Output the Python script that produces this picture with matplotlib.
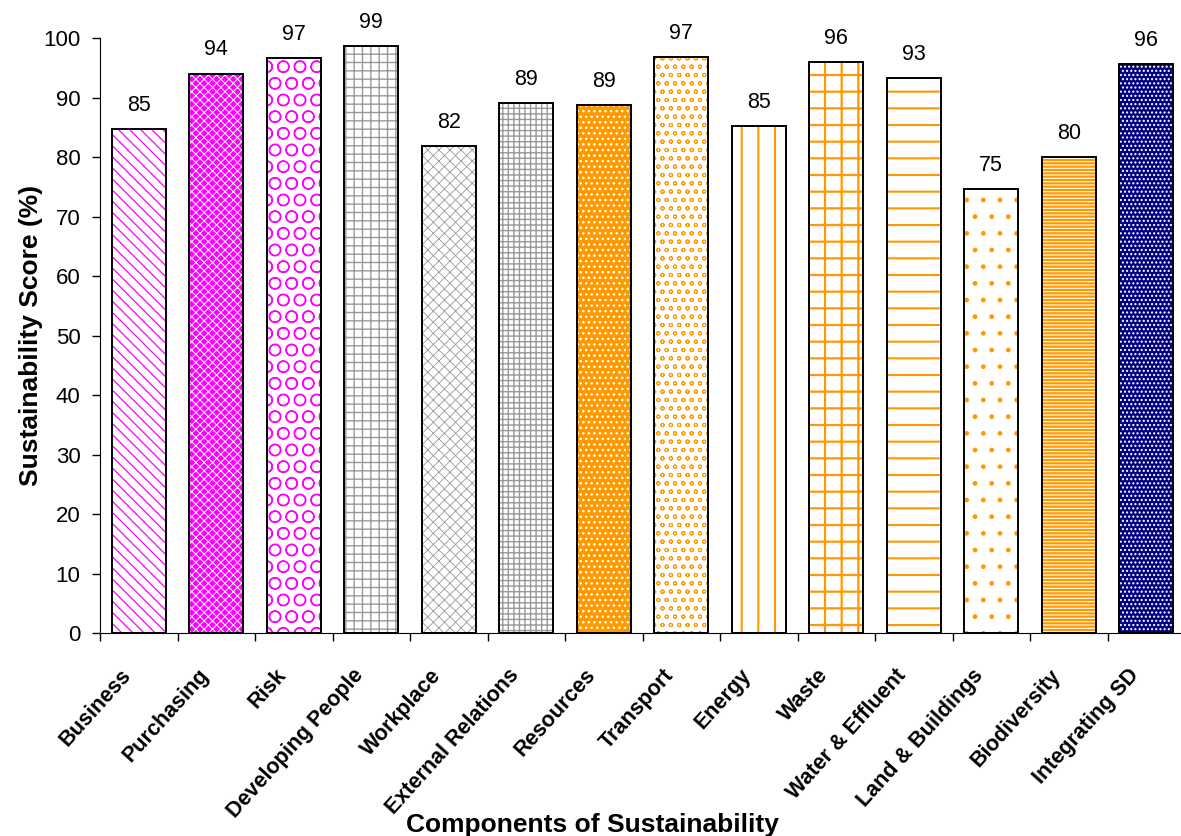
import matplotlib.pyplot as plt
import matplotlib.transforms as mtransforms
import numpy as np

categories = ['Business', 'Purchasing', 'Risk', 'Developing People', 'Workplace',
              'External Relations', 'Resources', 'Transport', 'Energy', 'Waste',
              'Water & Effluent', 'Land & Buildings', 'Biodiversity', 'Integrating SD']
scores = [84.7, 94.0, 96.6, 98.6, 81.8, 89.1, 88.7, 96.8, 85.2, 96.0, 93.3, 74.6, 80.0, 95.6]

magenta = '#FF00FF'
grey = '#999999'
orange = '#FF9900'
navy = '#000080'

# fill colour, hatch colour, hatch pattern and hatch line width for each bar
faces = ['white', magenta, 'white', 'white', 'white', 'white', orange,
         'white', 'white', 'white', 'white', 'white', orange, navy]
hatch_colors = [magenta, 'white', magenta, grey, grey, grey, 'white',
                orange, orange, orange, orange, orange, 'white', 'white']
hatches = ['\\\\\\', 'xxxx', 'O', '++', 'xxx', '+++', '...',
           'oo', '|', '+', '-', '.', '-----', '....']
hatch_widths = [0.9, 0.7, 0.9, 1.0, 0.6, 1.0, 1.0,
                0.7, 1.5, 1.6, 1.5, 1.0, 0.8, 1.0]

plt.rcParams['font.family'] = ['Liberation Sans', 'DejaVu Sans']

fig = plt.figure(figsize=(11.81, 8.36), dpi=100)
ax = fig.add_axes([0.0847, 0.2428, 0.9187, 0.7117])

x = np.arange(len(categories))
for i in range(len(categories)):
    with plt.rc_context({'hatch.linewidth': hatch_widths[i]}):
        ax.bar(x[i], scores[i], width=0.7, color=faces[i], edgecolor=hatch_colors[i],
               hatch=hatches[i], linewidth=0, zorder=2)
    ax.bar(x[i], scores[i], width=0.7, fill=False, edgecolor='black',
           linewidth=1.4, zorder=3)
    ax.text(x[i], scores[i] + 4.0, '%.0f' % scores[i], ha='center', va='center',
            fontsize=15.5)

ax.set_xlim(-0.5, len(categories) - 0.5)
ax.set_ylim(0, 100)
ax.set_yticks(np.arange(0, 101, 10))
ax.tick_params(axis='y', labelsize=16, direction='out', length=6, width=1, pad=8)

ax.set_xticks(x)
ax.set_xticklabels(categories, rotation=48, ha='right', va='center',
                   rotation_mode='anchor', fontsize=15.5, fontweight='bold')
ax.tick_params(axis='x', which='major', length=0, pad=28)
ax.set_xticks(np.arange(len(categories) + 1) - 0.5, minor=True)
ax.tick_params(axis='x', which='minor', direction='out', length=6, width=1)

# nudge the slanted labels a little to the left of the bar centres
shift = mtransforms.ScaledTranslation(-8 / 72, 0, fig.dpi_scale_trans)
for lbl in ax.get_xticklabels():
    lbl.set_transform(lbl.get_transform() + shift)

ax.spines['top'].set_visible(False)
ax.spines['right'].set_visible(False)

ax.set_ylabel('Sustainability Score (%)', fontsize=19, fontweight='bold')
ax.yaxis.set_label_coords(-0.053, 0.5)
ax.set_xlabel('Components of Sustainability', fontsize=19, fontweight='bold')
ax.xaxis.set_label_coords(0.454, -0.302)

fig.savefig('out.png', dpi=100)
